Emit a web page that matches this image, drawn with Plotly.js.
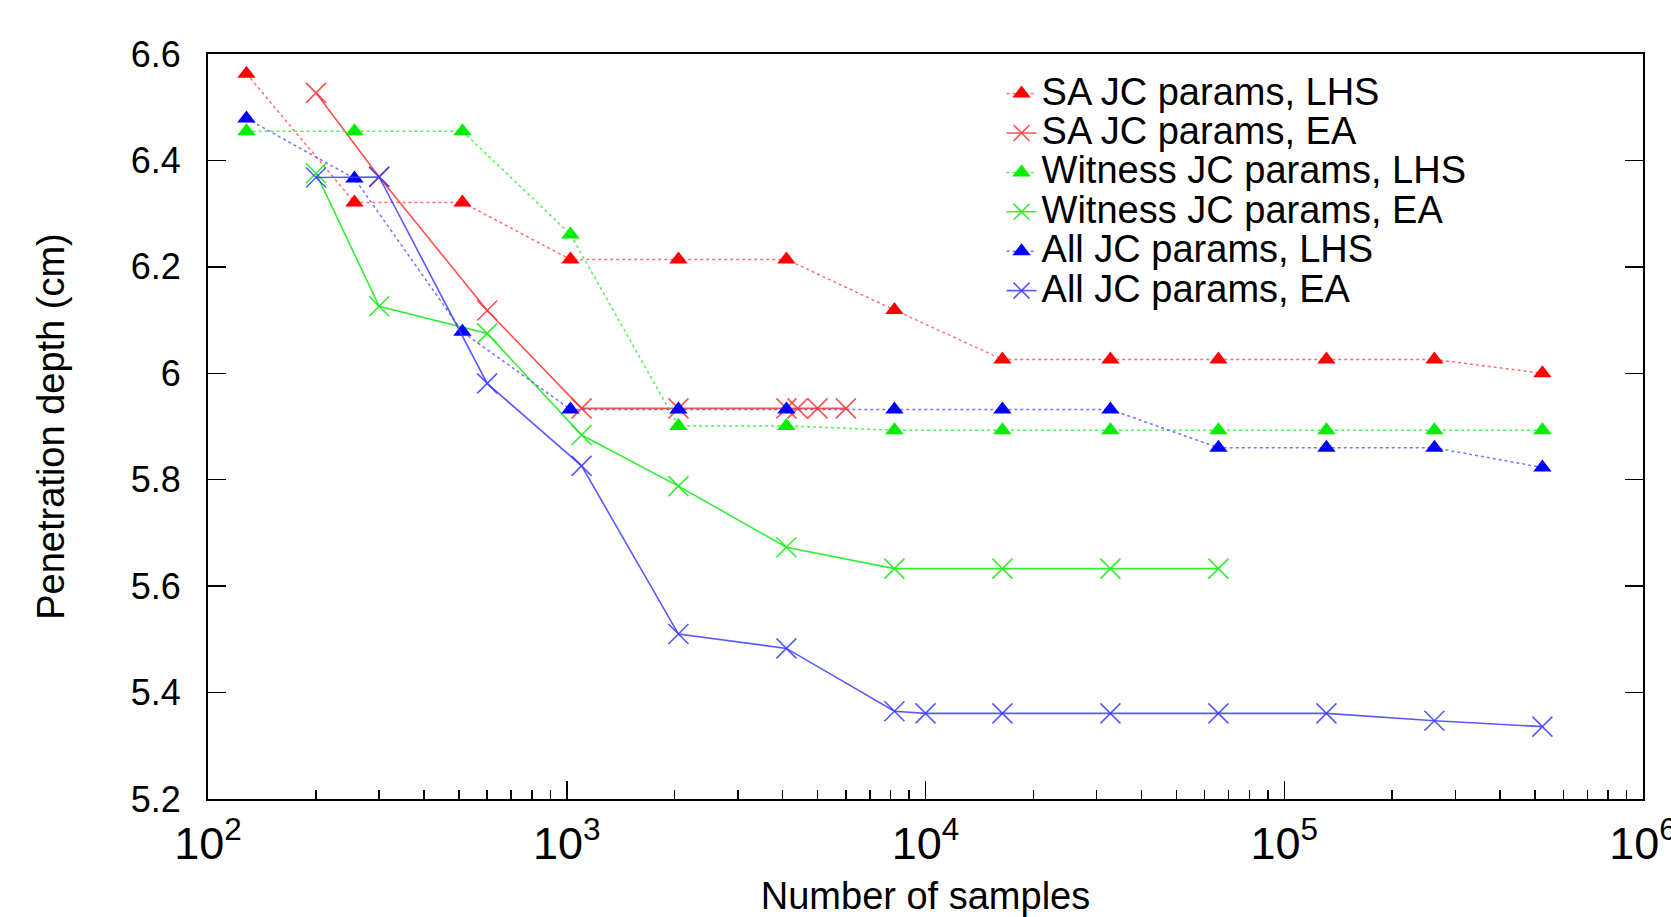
<!DOCTYPE html>
<html>
<head>
<meta charset="utf-8">
<script src="https://cdn.plot.ly/plotly-3.0.1.min.js"></script>
<style>html,body{margin:0;padding:0;background:#fff;}#chart{width:1671px;height:917px;}</style>
</head>
<body>
<div id="chart"></div>
<script>
// ---- data ----
const lhsSamples = [128, 256, 512, 1024, 2048, 4096, 8192, 16384, 32768, 65536, 131072, 262144, 524288];
const saLHS      = [6.563, 6.321, 6.321, 6.214, 6.214, 6.214, 6.119, 6.026, 6.026, 6.026, 6.026, 6.026, 6.000];
const witnessLHS = [6.455, 6.455, 6.455, 6.261, 5.901, 5.901, 5.893, 5.893, 5.893, 5.893, 5.893, 5.893, 5.893];
const allLHS     = [6.479, 6.366, 6.078, 5.932, 5.932, 5.932, 5.932, 5.932, 5.932, 5.860, 5.860, 5.860, 5.823];

const saEASamples = [200, 300, 600, 1100, 2048, 4096, 4400, 5000, 6000];
const saEA        = [6.527, 6.369, 6.118, 5.934, 5.934, 5.934, 5.934, 5.934, 5.934];

const witnessEASamples = [200, 300, 600, 1100, 2048, 4096, 8192, 16384, 32768, 65536];
const witnessEA        = [6.376, 6.126, 6.075, 5.884, 5.788, 5.673, 5.633, 5.633, 5.633, 5.633];

const allEASamples = [200, 300, 600, 1100, 2048, 4096, 8192, 10000, 16384, 32768, 65536, 131072, 262144, 524288];
const allEA        = [6.368, 6.369, 5.981, 5.826, 5.510, 5.483, 5.365, 5.361, 5.361, 5.361, 5.361, 5.361, 5.347, 5.336];

const seriesNames = ["SA JC params, LHS", "SA JC params, EA", "Witness JC params, LHS",
                     "Witness JC params, EA", "All JC params, LHS", "All JC params, EA"];
const xTitle = "Number of samples";
const yTitle = "Penetration depth (cm)";

// ---- styling ----
const FONT = '"Liberation Sans", Arial, Helvetica, sans-serif';
function nm(s) { return '<span style="font-size:38px">' + s + '</span>'; }

function lhsTrace(x, y, name, lineColor, markColor) {
  return {
    x: x, y: y, name: nm(name), type: 'scatter', mode: 'lines+markers',
    line: {color: lineColor, width: 1.5, dash: 'dot'},
    marker: {symbol: 'triangle-up', size: 16, color: markColor, line: {width: 0}}
  };
}
function eaTrace(x, y, name, color) {
  return {
    x: x, y: y, name: nm(name), type: 'scatter', mode: 'lines+markers',
    line: {color: color, width: 1.6},
    marker: {symbol: 'x-thin-open', size: 20, color: color, line: {color: color, width: 1.6}}
  };
}

const traces = [
  lhsTrace(lhsSamples, saLHS, seriesNames[0], 'rgba(255,60,60,0.75)', '#ff0000'),
  eaTrace(saEASamples, saEA, seriesNames[1], 'rgba(255,50,50,0.85)'),
  lhsTrace(lhsSamples, witnessLHS, seriesNames[2], 'rgba(40,240,40,0.8)', '#00ee00'),
  eaTrace(witnessEASamples, witnessEA, seriesNames[3], 'rgba(30,235,30,0.9)'),
  lhsTrace(lhsSamples, allLHS, seriesNames[4], 'rgba(70,70,255,0.75)', '#0000ff'),
  eaTrace(allEASamples, allEA, seriesNames[5], 'rgba(60,60,255,0.85)')
];

const axisCommon = {
  type: 'log', range: [2, 6], dtick: 1, exponentformat: 'power',
  showgrid: false, zeroline: false,
  ticks: 'inside', ticklen: 18, tickwidth: 1.5, tickcolor: '#000',
  minor: {ticks: 'inside', ticklen: 9, tickwidth: 1.5, tickcolor: '#000', dtick: 'D1', showgrid: false},
  automargin: false
};

const layout = {
  width: 1671, height: 917,
  margin: {l: 208, r: 28, t: 54, b: 118},
  paper_bgcolor: '#ffffff', plot_bgcolor: '#ffffff',
  font: {family: FONT, size: 36, color: '#000'},
  showlegend: true,
  legend: {
    x: 0.553, y: 0.98, xanchor: 'left', yanchor: 'top',
    bgcolor: 'rgba(0,0,0,0)', borderwidth: 0,
    font: {family: FONT, size: 28, color: '#000'},
    itemclick: false
  },
  xaxis: Object.assign({}, axisCommon, {
    showline: true, linecolor: '#000', linewidth: 2, mirror: true,
    ticklabelstandoff: 6, ticklabeloverflow: 'allow',
    tickfont: {family: FONT, size: 36, color: '#000'},
    title: {text: xTitle, font: {family: FONT, size: 38, color: '#000'}, standoff: 30}
  }),
  xaxis2: Object.assign({}, axisCommon, {
    overlaying: 'x', side: 'top', anchor: 'y', showticklabels: false, showline: false
  }),
  yaxis: {
    range: [5.2, 6.6], dtick: 0.2, tick0: 5.2,
    showgrid: false, zeroline: false,
    showline: true, linecolor: '#000', linewidth: 2, mirror: 'ticks',
    ticks: 'inside', ticklen: 18, tickwidth: 1.5, tickcolor: '#000',
    ticklabelstandoff: 18,
    tickfont: {family: FONT, size: 36, color: '#000'},
    title: {text: yTitle, font: {family: FONT, size: 38, color: '#000'}, standoff: 54},
    automargin: false
  }
};

Plotly.newPlot('chart', traces, layout, {displayModeBar: false, staticPlot: true});
</script>
</body>
</html>
